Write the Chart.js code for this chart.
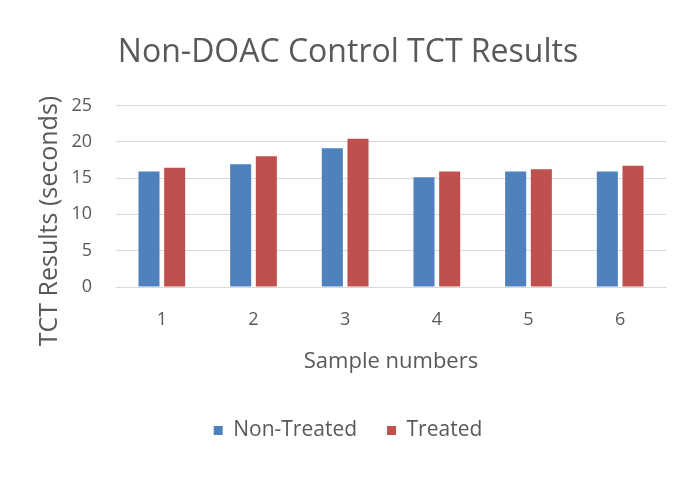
<!DOCTYPE html>
<html>
<head>
<meta charset="utf-8">
<script src="https://cdn.jsdelivr.net/npm/chart.js@4/dist/chart.umd.min.js"></script>
<style>
  html, body { margin: 0; padding: 0; background: #fff; }
  #wrap { width: 688px; height: 483px; }
</style>
</head>
<body>
<div id="wrap"><canvas id="myChart" width="688" height="483"></canvas></div>
<script>
// values
const samples = ['1', '2', '3', '4', '5', '6'];
const nonTreated = [15.9, 16.9, 19.1, 15.1, 15.9, 15.9];
const treated = [16.4, 18.0, 20.4, 15.9, 16.2, 16.7];
const yTitle = 'TCT Results (seconds)';

const textColor = '#595959';
const font = '"Open Sans", Lato, sans-serif';

// the y axis title sits a bit lower than the plot centre in the original
const yTitlePlugin = {
    id: 'yTitle',
    afterDraw(chart) {
        const c = chart.ctx;
        c.save();
        c.translate(57, 221);
        c.rotate(-Math.PI / 2);
        c.font = '25px ' + font;
        c.fillStyle = textColor;
        c.textAlign = 'center';
        c.textBaseline = 'alphabetic';
        c.fillText(yTitle, 0, 0);
        c.restore();
    }
};

var ctx = document.getElementById('myChart');
var myChart = new Chart(ctx, {
    type: 'bar',
    data: {
        labels: samples,
        datasets: [{
            label: 'Non-Treated',
            data: nonTreated,
            backgroundColor: '#4f81bd',
            categoryPercentage: 0.56,
            barPercentage: 0.82
        }, {
            label: 'Treated',
            data: treated,
            backgroundColor: '#c0504d',
            categoryPercentage: 0.56,
            barPercentage: 0.82
        }]
    },
    plugins: [yTitlePlugin],
    options: {
        responsive: false,
        animation: false,
        layout: {
            padding: {left: 30, right: 22, top: 34, bottom: 32}
        },
        plugins: {
            title: {
                display: true,
                text: 'Non-DOAC Control TCT Results',
                color: textColor,
                font: {family: font, size: 32, weight: 'normal'},
                padding: {top: 0, bottom: 33}
            },
            legend: {
                position: 'bottom',
                labels: {
                    color: textColor,
                    font: {family: font, size: 21},
                    boxWidth: 9,
                    boxHeight: 9,
                    padding: 30
                }
            },
            tooltip: {enabled: false}
        },
        scales: {
            x: {
                grid: {display: false},
                border: {color: '#d9d9d9'},
                ticks: {color: textColor, font: {family: font, size: 18}, padding: 14},
                title: {
                    display: true,
                    text: 'Sample numbers',
                    color: textColor,
                    font: {family: font, size: 22},
                    padding: {top: 4, bottom: 15}
                }
            },
            y: {
                min: 0,
                max: 25,
                afterFit: function (scale) { scale.width = 86; },
                ticks: {stepSize: 5, color: textColor, font: {family: font, size: 18}, padding: 24},
                grid: {color: '#d9d9d9', drawTicks: false},
                border: {display: false}
            }
        }
    }
});
</script>
</body>
</html>
